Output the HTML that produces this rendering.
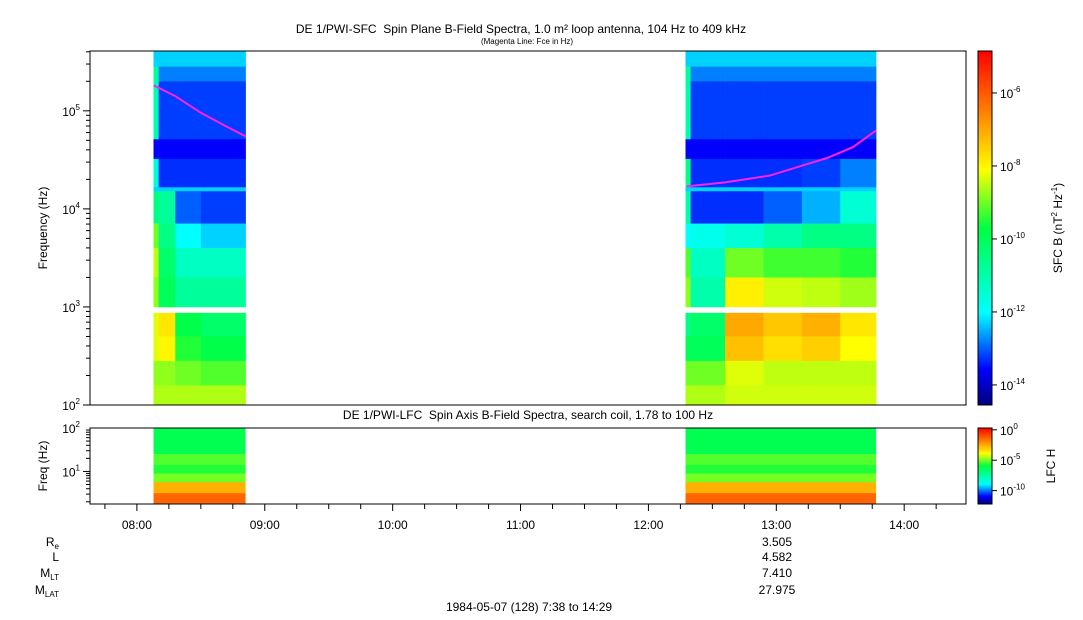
<!DOCTYPE html>
<html><head><meta charset="utf-8"><style>
body{margin:0;background:#fff;}
svg{display:block;font-family:"Liberation Sans",sans-serif;}
</style></head><body>
<svg id="chart" width="1083" height="620" viewBox="0 0 1083 620" xmlns="http://www.w3.org/2000/svg">
<defs>
<linearGradient id="jetTop" x1="0" y1="1" x2="0" y2="0">
<stop offset="0" stop-color="#000080"/><stop offset="0.1" stop-color="#0000ff"/><stop offset="0.26" stop-color="#00ffff"/><stop offset="0.5" stop-color="#00ff40"/><stop offset="0.665" stop-color="#ffff00"/><stop offset="0.83" stop-color="#ff8000"/><stop offset="1" stop-color="#ff0000"/>
</linearGradient>
</defs>
<text x="521" y="33" font-size="12" text-anchor="middle">DE 1/PWI-SFC &#160;Spin Plane B-Field Spectra, 1.0 m² loop antenna, 104 Hz to 409 kHz</text>
<text x="527" y="44" font-size="8" text-anchor="middle">(Magenta Line: Fce in Hz)</text>
<text x="528" y="419" font-size="12" text-anchor="middle">DE 1/PWI-LFC &#160;Spin Axis B-Field Spectra, search coil, 1.78 to 100 Hz</text>
<text transform="translate(47,228) rotate(-90)" font-size="12" text-anchor="middle">Frequency (Hz)</text>
<text transform="translate(47,466) rotate(-90)" font-size="12" text-anchor="middle">Freq (Hz)</text>
<text transform="translate(1062,228) rotate(-90)" font-size="12" text-anchor="middle">SFC B (nT<tspan font-size="8" dy="-5">2</tspan><tspan dy="5"> Hz</tspan><tspan font-size="8" dy="-5">-1</tspan><tspan dy="5">)</tspan></text>
<text transform="translate(1055,466) rotate(-90)" font-size="12" text-anchor="middle">LFC H</text>
<g id="layer"></g>
<g font-size="12" text-anchor="end">
<text x="59" y="546">R<tspan font-size="8" dy="3">e</tspan></text>
<text x="59" y="561">L</text>
<text x="59" y="577">M<tspan font-size="8" dy="3">LT</tspan></text>
<text x="59" y="594">M<tspan font-size="8" dy="3">LAT</tspan></text>
</g>
<g font-size="12" text-anchor="middle">
<text x="777" y="546">3.505</text><text x="777" y="561">4.582</text><text x="777" y="577">7.410</text><text x="777" y="594">27.975</text>
</g>
<text x="529" y="611" font-size="12" text-anchor="middle">1984-05-07 (128) 7:38 to 14:29</text>
</svg>
<script>
// ---- data ----
const topFreqEdges=[5.61,5.45,5.3,4.71,4.51,4.22,4.18,3.85,3.6,3.3,3.0];
const topLowEdges=[2.94,2.7,2.45,2.2,2.0];
const blockATimes=[8.13,8.17,8.3,8.5,8.85];
const blockAHigh=[
[-12.3,-12.3,-12.3,-12.3],
[-10.8,-12.8,-12.8,-12.8],
[-11,-13.2,-13.2,-13.2],
[-13.6,-13.6,-13.6,-13.6],
[-11.5,-13.3,-13.3,-13.3],
[-12.3,-12.3,-12.3,-12.3],
[-10.5,-10.8,-13,-13.2],
[-9,-10.5,-12,-12.3],
[-8.5,-10.2,-11.3,-11.3],
[-8.8,-10,-10.8,-10.8]];
const blockALow=[
[-8.3,-7.8,-9.8,-10.2],
[-8.3,-8.0,-9.5,-9.8],
[-8.8,-8.8,-9.0,-9.2],
[-8.6,-8.6,-8.6,-8.6]];
const blockBTimes=[12.29,12.33,12.6,12.9,13.2,13.5,13.78];
const blockBHigh=[
[-12.3,-12.3,-12.3,-12.3,-12.3,-12.3],
[-10.8,-12.8,-12.8,-12.8,-12.8,-12.8],
[-11,-13.2,-13.2,-13.2,-13.2,-13.2],
[-13.6,-13.6,-13.6,-13.6,-13.6,-13.6],
[-10.5,-13.3,-13.3,-13.3,-13.2,-12.8],
[-12.3,-12.3,-12.3,-12.3,-12.3,-12.3],
[-11,-13.3,-13.3,-13,-12.5,-11.5],
[-12,-11.8,-11.5,-11,-10.5,-10.5],
[-9.2,-11.3,-9.0,-9.3,-9.3,-9.5],
[-8.8,-11.0,-7.9,-8.4,-8.5,-8.7]];
const blockBLow=[
[-10.5,-10.2,-7.0,-7.4,-7.1,-7.8],
[-10,-10,-7.3,-7.7,-7.5,-8.1],
[-9.0,-9.0,-8.3,-8.5,-8.5,-8.5],
[-8.6,-8.6,-8.4,-8.4,-8.4,-8.4]];
const lfcEdges=[2.0,1.4,1.15,0.95,0.75,0.5,0.25];
const lfcValues=[-6.2,-5.3,-5.7,-5.0,-2.6,-1.4];
const fceATimes=[8.13,8.3,8.5,8.7,8.85];
const fceALog=[5.26,5.15,4.98,4.84,4.74];
const fceBTimes=[12.3,12.6,12.95,13.2,13.4,13.6,13.78];
const fceBLog=[4.23,4.27,4.34,4.44,4.52,4.63,4.8];
const timeTicks=["08:00","09:00","10:00","11:00","12:00","13:00","14:00"];
const topCbTicks=[-6,-8,-10,-12,-14];
const lfcCbTicks=[0,-5,-10];
// ---- scales ----
const X0=90,X1=966,T0=7+38/60,T1=14+29/60;
const xs=t=>X0+(t-T0)/(T1-T0)*(X1-X0);
const TY0=51,TY1=405,ys=l=>TY0+(5.61-l)/(5.61-2.0)*(TY1-TY0);
const LY0=428,LY1=504,yl=l=>LY0+(2.0-l)/(2.0-0.25)*(LY1-LY0);
const CMIN=-14.55,CMAX=-4.85,LMIN=-12.2,LMAX=0.3;
const stops=[[0,[0,0,128]],[0.1,[0,0,255]],[0.26,[0,255,255]],[0.5,[0,255,64]],[0.665,[255,255,0]],[0.83,[255,128,0]],[1,[255,0,0]]];
function jet(f){f=Math.max(0,Math.min(1,f));for(let i=1;i<stops.length;i++){if(f<=stops[i][0]){const a=stops[i-1],b=stops[i],u=(f-a[0])/(b[0]-a[0]);return 'rgb('+a[1].map((c,k)=>Math.round(c+(b[1][k]-c)*u)).join(',')+')';}}return 'rgb(255,0,0)';}
const NS="http://www.w3.org/2000/svg",layer=document.getElementById('layer');
function el(tag,attrs,parent){const e=document.createElementNS(NS,tag);for(const k in attrs)e.setAttribute(k,attrs[k]);(parent||layer).appendChild(e);return e;}
function grid(times,edges,vals,name){
  const g=el('g',{});
  
  
  for(let r=0;r<vals.length;r++)for(let c=0;c<vals[r].length;c++){
    const x=xs(times[c]),y=ys(edges[r]);
    const rc=el('rect',{x:x,y:y,width:xs(times[c+1])-x+0.3,height:ys(edges[r+1])-y+0.3,fill:jet((vals[r][c]-CMIN)/(CMAX-CMIN))},g);
    
    
  }
}
grid(blockATimes,topFreqEdges,blockAHigh,'sfc-block-1-high');
grid(blockATimes,topLowEdges,blockALow,'sfc-block-1-low');
grid(blockBTimes,topFreqEdges,blockBHigh,'sfc-block-2-high');
grid(blockBTimes,topLowEdges,blockBLow,'sfc-block-2-low');
// LFC
[[blockATimes[0],blockATimes[blockATimes.length-1]],[blockBTimes[0],blockBTimes[blockBTimes.length-1]]].forEach((b,bi)=>{
  for(let r=0;r<lfcValues.length;r++){
    const y=yl(lfcEdges[r]);
    const rc=el('rect',{x:xs(b[0]),y:y,width:xs(b[1])-xs(b[0]),height:yl(lfcEdges[r+1])-y+0.3,fill:jet((lfcValues[r]-LMIN)/(LMAX-LMIN))});
    
    
  }
});
// fce lines
function line(ts,ls,name){
  const p=el('polyline',{points:ts.map((t,i)=>xs(t)+','+ys(ls[i])).join(' '),fill:'none',stroke:'#ff20ff','stroke-width':2});
  
  
}
line(fceATimes,fceALog,'fce-line-1');
line(fceBTimes,fceBLog,'fce-line-2');
// frames
const f1=el('rect',{x:X0,y:TY0,width:X1-X0,height:TY1-TY0,fill:'none',stroke:'#000','stroke-width':1});


const f2=el('rect',{x:X0,y:LY0,width:X1-X0,height:LY1-LY0,fill:'none',stroke:'#000','stroke-width':1});


// time ticks
for(let m=0;m<=7*60;m+=15){const t=7.75+m/60;if(t>T1)break;const x=xs(t);const major=m%60===15;
  const tk=el('line',{x1:x,x2:x,y1:LY1,y2:LY1+(major?7:5),stroke:'#000'});
  
  
}
timeTicks.forEach((s,i)=>{const tx=el('text',{x:xs(8+i),y:529,'font-size':12,'text-anchor':'middle'});tx.textContent=s;
  
  });
// y ticks top
for(let d=2;d<=5;d++){for(let k=1;k<=9;k++){const l=d+Math.log10(k);if(l>5.61)break;const y=ys(l);const L=k===1?7:4;
  const a=el('line',{x1:X0-L,x2:X0,y1:y,y2:y,stroke:'#000'});
  
  
  if(k===1){const tx=el('text',{x:X0-10,y:y+5,'font-size':12,'text-anchor':'end'});tx.innerHTML='10<tspan font-size="8" dy="-6">'+d+'</tspan>';
    
    }}}
for(let d=0;d<=1;d++){for(let k=1;k<=9;k++){const l=d+Math.log10(k);if(l<0.25)continue;if(l>2)break;const y=yl(l);const L=k===1?7:4;
  const a=el('line',{x1:X0-L,x2:X0,y1:y,y2:y,stroke:'#000'});
  
  }}
[[2,'2'],[1,'1']].forEach(([l,s])=>{const tx=el('text',{x:X0-10,y:yl(l)+5,'font-size':12,'text-anchor':'end'});tx.innerHTML='10<tspan font-size="8" dy="-6">'+s+'</tspan>';
  
  });
// colorbars
const cb1=el('rect',{x:978,y:TY0,width:14,height:TY1-TY0,fill:'url(#jetTop)',stroke:'#000'});


const cb2=el('rect',{x:978,y:LY0,width:14,height:LY1-LY0,fill:'url(#jetTop)',stroke:'#000'});


topCbTicks.forEach(v=>{const y=TY0+(CMAX-v)/(CMAX-CMIN)*(TY1-TY0);
  const a=el('line',{x1:992,x2:997,y1:y,y2:y,stroke:'#000'});
  
  
  const tx=el('text',{x:1000,y:y+5,'font-size':12});tx.innerHTML='10<tspan font-size="8" dy="-6">'+v+'</tspan>';
  
  });
lfcCbTicks.forEach(v=>{const y=LY0+(LMAX-v)/(LMAX-LMIN)*(LY1-LY0);
  const a=el('line',{x1:992,x2:997,y1:y,y2:y,stroke:'#000'});
  
  
  const tx=el('text',{x:1000,y:y+5,'font-size':12});tx.innerHTML='10<tspan font-size="8" dy="-6">'+v+'</tspan>';
  
  });
</script>
</body></html>
